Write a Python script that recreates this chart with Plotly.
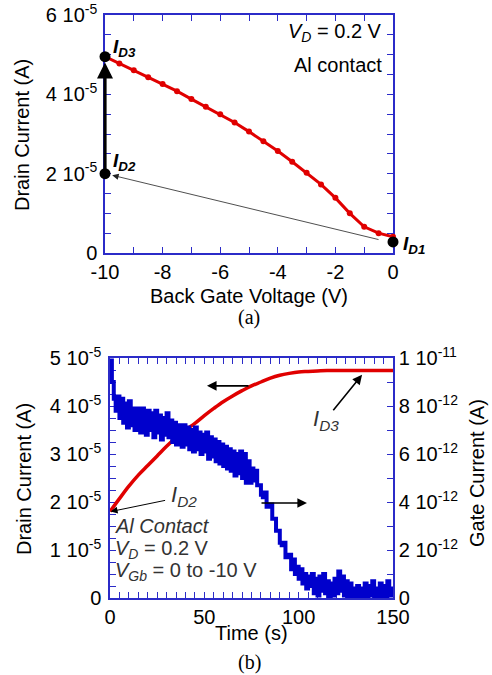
import plotly.graph_objects as go

W, H = 492, 675
FONT = "Liberation Sans, Arial, sans-serif"
AXC = "#2b2bc8"
RED = "#e00000"
BLUE = "#0000cc"

# ---------- (a) data ----------
gate_voltage = [-10, -9.5, -9, -8.5, -8, -7.5, -7, -6.5, -6, -5.5, -5,
                -4.5, -4, -3.5, -3, -2.5, -2, -1.5, -1, -0.5, 0]
drain_a = [4.95, 4.78, 4.61, 4.43, 4.26, 4.08, 3.88, 3.69, 3.50, 3.29, 3.06,
           2.82, 2.57, 2.30, 2.02, 1.73, 1.39, 1.00, 0.66, 0.50, 0.41]  # x1e-5 A
key_v = [-10, -10, 0]
key_i = [4.95, 2.00, 0.28]  # ID3, ID2, ID1 (x1e-5 A)

a_xticks = [-10, -9, -8, -7, -6, -5, -4, -3, -2, -1, 0]
a_xtext = ["-10", "", "-8", "", "-6", "", "-4", "", "-2", "", "0"]
a_yticks = [0, 0.5, 1, 1.5, 2, 2.5, 3, 3.5, 4, 4.5, 5, 5.5, 6]
a_ytext = ["0", "", "", "", "2 10<sup>-5</sup>", "", "", "", "4 10<sup>-5</sup>",
           "", "", "", "6 10<sup>-5</sup>"]

# ---------- (b) data ----------
time_red = [0, 5, 10, 15, 20, 25, 30, 35, 40, 45, 50, 55, 60, 65, 70, 75, 80,
            85, 90, 95, 100, 105, 110, 115, 120, 125, 130, 135, 140, 145, 150]
drain_b = [1.80, 2.07, 2.33, 2.56, 2.76, 2.96, 3.16, 3.34, 3.50, 3.64, 3.80,
           3.95, 4.09, 4.21, 4.32, 4.42, 4.50, 4.58, 4.64, 4.68, 4.71, 4.72,
           4.73, 4.74, 4.74, 4.74, 4.74, 4.74, 4.74, 4.74, 4.74]  # x1e-5 A
time_blue = list(range(0, 151))
gate_b = [9.9, 9.0, 8.3, 7.8, 8.4, 7.5, 8.3, 7.3, 8.1, 7.1,
          8.2, 7.2, 7.9, 7.0, 7.9, 7.6, 6.9, 7.9, 7.1, 6.8,
          7.8, 7.0, 7.7, 6.7, 7.8, 6.9, 7.6, 6.6, 7.5, 6.8,
          7.7, 6.7, 7.4, 6.5, 7.3, 6.4, 7.2, 6.9, 6.3, 7.2,
          6.4, 7.1, 6.2, 7.0, 6.1, 7.1, 6.2, 6.9, 6.0, 6.8,
          6.1, 6.9, 5.8, 6.7, 5.9, 6.6, 5.7, 6.5, 5.6, 6.4,
          5.5, 6.3, 5.4, 6.2, 5.3, 6.1, 5.1, 6.0, 5.2, 6.1,
          5.0, 6.0, 4.8, 5.7, 4.8, 5.4, 4.9, 5.3, 4.7, 4.7,
          4.3, 4.2, 4.4, 3.8, 3.8, 3.9, 3.3, 3.3, 2.8, 2.8,
          2.3, 2.2, 2.3, 1.7, 1.7, 1.8, 1.2, 1.6, 1.0, 1.3,
          0.8, 1.2, 0.6, 1.0, 0.4, 0.9, 0.5, 1.0, 0.2, 0.8,
          0.1, 0.9, 0.3, 1.0, 0.2, 0.7, 0.0, 0.6, 0.1, 0.8,
          0.2, 1.1, 0.3, 0.9, 0.1, 0.7, 0.0, 0.6, 0.0, 0.4,
          0.0, 0.5, 0.0, 0.4, 0.0, 0.6, 0.0, 0.5, 0.1, 0.7,
          0.0, 0.4, 0.0, 0.6, 0.0, 0.5, 0.0, 0.7, 0.1, 0.4,
          0.1]  # x1e-12 A

b_xticks = list(range(0, 151, 5))
b_xtext = [str(v) if v % 50 == 0 else "" for v in b_xticks]
b_yticks = [i * 0.25 for i in range(21)]
b_ytext = ["0", "", "", "", "1 10<sup>-5</sup>", "", "", "", "2 10<sup>-5</sup>", "", "", "",
           "3 10<sup>-5</sup>", "", "", "", "4 10<sup>-5</sup>", "", "", "", "5 10<sup>-5</sup>"]
b_y2ticks = [0, 1, 2, 3, 4, 5, 6, 7, 8, 9, 10]
b_y2text = ["0", "", "2 10<sup>-12</sup>", "", "4 10<sup>-12</sup>", "",
            "6 10<sup>-12</sup>", "", "8 10<sup>-12</sup>", "", "1 10<sup>-11</sup>"]

E5, E12 = 1e-5, 1e-12


def px(x):
    return x / W


def py(y):
    return 1 - y / H


fig = go.Figure()

# (a)
fig.add_trace(go.Scatter(x=gate_voltage, y=[v * E5 for v in drain_a], mode="lines+markers",
                         line=dict(color=RED, width=3), marker=dict(color=RED, size=6),
                         xaxis="x", yaxis="y", cliponaxis=False, showlegend=False))
fig.add_trace(go.Scatter(x=key_v, y=[v * E5 for v in key_i], mode="markers",
                         marker=dict(color="black", size=11), xaxis="x", yaxis="y",
                         cliponaxis=False, showlegend=False))

# (b)
fig.add_trace(go.Scatter(x=time_blue, y=[v * E12 for v in gate_b], mode="lines",
                         line=dict(color=BLUE, width=4, shape="hv"),
                         xaxis="x2", yaxis="y3", showlegend=False))
fig.add_trace(go.Scatter(x=time_red, y=[v * E5 for v in drain_b], mode="lines",
                         line=dict(color=RED, width=3.5, shape="spline"),
                         xaxis="x2", yaxis="y2", cliponaxis=False, showlegend=False))

tickfont = dict(family=FONT, size=20, color="black")
common = dict(showline=True, linecolor=AXC, linewidth=1.5, ticks="inside", ticklen=6,
              tickwidth=1.3, tickcolor=AXC, showgrid=False, zeroline=False,
              tickfont=tickfont, layer="below traces", automargin=False)

fig.update_layout(
    width=W, height=H, margin=dict(l=0, r=0, t=0, b=0, autoexpand=False),
    paper_bgcolor="white", plot_bgcolor="white",
    xaxis=dict(domain=[px(105), px(393)], range=[-10, 0], anchor="y", mirror="ticks",
               tickmode="array", tickvals=a_xticks, ticktext=a_xtext, **common),
    yaxis=dict(domain=[py(253), py(15)], range=[0, 6 * E5], anchor="x", mirror="ticks",
               ticklabelstandoff=2,
               tickmode="array", tickvals=[v * E5 for v in a_yticks], ticktext=a_ytext, **common),
    xaxis2=dict(domain=[px(110), px(393)], range=[0, 150], anchor="y2", mirror="ticks",
                tickmode="array", tickvals=b_xticks, ticktext=b_xtext, **common),
    yaxis2=dict(domain=[py(598), py(358)], range=[0, 5 * E5], anchor="x2",
                ticklabelstandoff=3,
                tickmode="array", tickvals=[v * E5 for v in b_yticks], ticktext=b_ytext, **common),
    yaxis3=dict(range=[0, 10 * E12], anchor="x2", overlaying="y2", side="right",
                tickmode="array", tickvals=[v * E12 for v in b_y2ticks], ticktext=b_y2text, **common),
)

ann = []


def text(x, y, s, size=20, xanchor="center", yanchor="middle", angle=0, family=FONT,
         color="black"):
    ann.append(dict(x=px(x), y=py(y), xref="paper", yref="paper", text=s, showarrow=False,
                    xanchor=xanchor, yanchor=yanchor, textangle=angle,
                    font=dict(family=family, size=size, color=color)))


# titles (a)
text(22, 135, "Drain Current (A)", angle=-90)
text(249, 296, "Back Gate Voltage (V)")
text(249, 318, "(a)", family="Liberation Serif, Times New Roman, serif")
text(384, 33, "<i>V<sub>D</sub></i> = 0.2 V", xanchor="right")
text(384, 65, "Al contact", xanchor="right")
text(111, 48, "<b><i>I<sub>D3</sub></i></b>", size=19, xanchor="left")
text(111, 162, "<b><i>I<sub>D2</sub></i></b>", size=19, xanchor="left")
text(401, 245, "<b><i>I<sub>D1</sub></i></b>", size=19, xanchor="left")

# arrows (a)
ann.append(dict(x=-10, y=4.8 * E5, ax=-10, ay=2.0 * E5, xref="x", yref="y", axref="x", ayref="y",
                showarrow=True, arrowhead=2, arrowsize=1, arrowwidth=3.2, arrowcolor="black",
                text=""))
ann.append(dict(x=-9.75, y=1.96 * E5, ax=-0.45, ay=0.33 * E5, xref="x", yref="y", axref="x", ayref="y",
                showarrow=True, arrowhead=2, arrowsize=1.6, arrowwidth=0.8, arrowcolor="#222",
                text=""))

# titles (b)
text(24, 479, "Drain Current (A)", angle=-90)
text(477, 473, "Gate Current (A)", angle=-90)
text(251, 633, "Time (s)")
text(249, 662, "(b)", family="Liberation Serif, Times New Roman, serif")
text(113, 526, "<i>Al Contact</i>", xanchor="left", color="#333")
text(113, 549, "<i>V<sub>D</sub></i> = 0.2 V", xanchor="left", color="#333")
text(113, 571, "<i>V<sub>Gb</sub></i> = 0 to -10 V", xanchor="left", color="#333")
text(169, 496, "<i>I<sub>D2</sub></i>", size=22, xanchor="left", color="#333")
text(311, 420, "<i>I<sub>D3</sub></i>", size=22, xanchor="left", color="#333")

# arrows (b)
ann.append(dict(x=51.4, y=4.42 * E5, ax=74.2, ay=4.42 * E5, xref="x2", yref="y2", axref="x2", ayref="y2",
                showarrow=True, arrowhead=2, arrowsize=1.2, arrowwidth=1.6, arrowcolor="black", text=""))
ann.append(dict(x=104.4, y=1.98 * E5, ax=79.5, ay=1.98 * E5, xref="x2", yref="y2", axref="x2", ayref="y2",
                showarrow=True, arrowhead=2, arrowsize=1.2, arrowwidth=1.6, arrowcolor="black", text=""))
ann.append(dict(x=133.6, y=4.65 * E5, ax=117.7, ay=3.88 * E5, xref="x2", yref="y2", axref="x2", ayref="y2",
                showarrow=True, arrowhead=2, arrowsize=1.2, arrowwidth=1.6, arrowcolor="black", text=""))
ann.append(dict(x=0.3, y=1.80 * E5, ax=30.0, ay=2.04 * E5, xref="x2", yref="y2", axref="x2", ayref="y2",
                showarrow=True, arrowhead=2, arrowsize=1.4, arrowwidth=1.0, arrowcolor="black", text=""))

fig.update_layout(annotations=ann)
fig.write_html("out.html", config={"displayModeBar": False},
               post_script="document.body.style.margin='0';document.body.style.overflow='hidden';")
